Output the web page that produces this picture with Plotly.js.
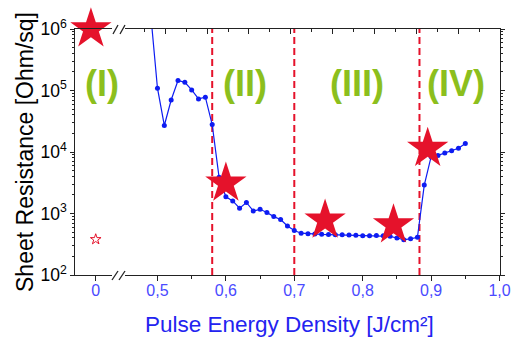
<!DOCTYPE html>
<html><head><meta charset="utf-8">
<script src="https://cdn.plot.ly/plotly-3.0.1.min.js"></script>
<style>html,body{margin:0;padding:0;background:#fff;}#chart{width:517px;height:339px;}</style>
</head><body><div id="chart"></div>
<script>
// Measured series (pulse energy density J/cm², sheet resistance Ohm/sq)
const energy = [0.49,0.50,0.51,0.52,0.53,0.54,0.55,0.56,0.57,0.58,0.59,0.60,0.61,0.62,0.63,0.64,0.65,0.66,0.67,0.68,0.69,0.70,0.71,0.72,0.73,0.74,0.75,0.76,0.77,0.78,0.79,0.80,0.81,0.82,0.83,0.84,0.85,0.86,0.87,0.88,0.89,0.90,0.91,0.92,0.93,0.94,0.95];
const sheetResistance = [1.8e6,1.09e5,2.7e4,7.0e4,1.45e5,1.36e5,1.02e5,7.3e4,7.8e4,2.8e4,3.9e3,1.87e3,1.6e3,1.22e3,1.51e3,1.1e3,1.17e3,1.04e3,890,800,626,530,478,468,462,458,455,452,450,446,442,435,435,438,436,425,400,375,388,410,2900,8400,8800,9600,10500,11500,13800];
// Highlighted samples (stars)
const refStarX = [-0.007];
const refStarY = [1e6];
const starX = [0.60,0.745,0.845,0.895];
const starY = [3100,780,650,11400];
const openStarX = [0];
const openStarY = [380];
// Regime boundaries and labels
const regionBounds = [0.58,0.70,0.883];
const regionLabels = ['(I)','(II)','(III)','(IV)'];
const regionLabelPos = [0.0624,0.40,0.6647,0.8972];
const leftTickVals = [0];
const leftTickText = ['0'];
const xTitle = 'Pulse Energy Density [J/cm²]';
const yTitle = 'Sheet Resistance [Ohm/sq]';

const FONT = 'Liberation Sans, Arial, sans-serif';
const RED = '#e5122b';
const BLUE = '#0d1cf2';

const traces = [
  {x: energy, y: sheetResistance, xaxis:'x2', yaxis:'y', mode:'lines+markers', type:'scatter',
   line:{color:BLUE, width:1.2}, marker:{color:BLUE, size:5}, hoverinfo:'x+y'},
  {x: openStarX, y: openStarY, xaxis:'x', yaxis:'y', mode:'markers', type:'scatter',
   marker:{symbol:'star-open', size:8, color:RED, line:{color:RED, width:1}}},
  {x: refStarX, y: refStarY, xaxis:'x', yaxis:'y', mode:'markers', type:'scatter', cliponaxis:false,
   marker:{symbol:'star', size:31, color:RED, line:{width:0}}},
  {x: starX, y: starY, xaxis:'x2', yaxis:'y', mode:'markers', type:'scatter', cliponaxis:false,
   marker:{symbol:'star', size:31, color:RED, line:{width:0}}},
  {x: [], y: [], xaxis:'x3', yaxis:'y', type:'scatter', mode:'markers', hoverinfo:'skip'},
  {x: [], y: [], xaxis:'x2', yaxis:'y2', type:'scatter', mode:'markers', hoverinfo:'skip'}
];

const AXC = '#222';
const shapes = regionBounds.map(b => ({type:'line', xref:'x2', yref:'paper', x0:b, x1:b, y0:0, y1:1, layer:'below',
  line:{color:RED, width:2, dash:'7px,4px'}}));
// axis break marks
const px = v => (v-75)/425, py = v => (275-v)/246;
[[112,280,118,271],[119,280,125,271],[113,34,118,25],[120,34,125,25]].forEach(s=>{
  shapes.push({type:'line', xref:'paper', yref:'paper', x0:px(s[0]), y0:py(s[1]), x1:px(s[2]), y1:py(s[3]), line:{color:AXC, width:1.3}});
});

const annotations = regionLabels.map((t,i)=>({text:'<b>'+t+'</b>', xref:'paper', yref:'paper', x:regionLabelPos[i], y:0.7785,
  xanchor:'center', yanchor:'middle', showarrow:false, font:{family:FONT, size:36, color:'#8cbf1d'}}));
annotations.push({text:xTitle, xref:'paper', yref:'paper', x:px(289), y:py(324), xanchor:'center', yanchor:'middle',
  showarrow:false, font:{family:FONT, size:22.5, color:'#2323f0'}});

const layout = {
  width:517, height:339, margin:{l:75, r:17, t:29, b:64},
  paper_bgcolor:'#fff', plot_bgcolor:'#fff', showlegend:false, separators:',.',
  font:{family:FONT, color:'#000'},
  xaxis:{domain:[0,0.0871], range:[-0.03026,0.02383], anchor:'y', tickvals:leftTickVals, ticktext:leftTickText,
    ticks:'outside', ticklen:5, tickcolor:AXC, showline:true, linecolor:AXC, linewidth:1.3, mirror:true, ticklabelstandoff:-5,
    showgrid:false, zeroline:false, tickfont:{size:16, color:'#4a4aff', family:FONT}},
  xaxis2:{domain:[0.1176,1], range:[0.4525,1.0007], anchor:'y', tick0:0.5, dtick:0.1, tickformat:'.1f',
    ticks:'outside', ticklen:5, tickcolor:AXC, showline:true, linecolor:AXC, linewidth:1.3, mirror:true, ticklabelstandoff:-5,
    showgrid:false, zeroline:false, tickfont:{size:16, color:'#4a4aff', family:FONT},
    minor:{ticks:'outside', ticklen:3, dtick:0.05, tick0:0.5, tickcolor:AXC, showgrid:false}},
  xaxis3:{overlaying:'x2', side:'top', anchor:'y', range:[0.4525,1.0007], tick0:0.5113, dtick:0.0612,
    ticks:'inside', ticklen:5, tickcolor:AXC, showticklabels:false, showline:false, showgrid:false, zeroline:false,
    minor:{ticks:'inside', ticklen:3, dtick:0.0306, tick0:0.5113, tickcolor:AXC, showgrid:false}},
  yaxis:{type:'log', range:[2,6], anchor:'x', dtick:1, exponentformat:'power', ticks:'outside', ticklen:4, tickcolor:AXC,
    showline:true, linecolor:AXC, linewidth:1.3, showgrid:false, zeroline:false,
    tickfont:{size:14, color:'#000', family:FONT},
    minor:{ticks:'outside', ticklen:2, tickcolor:AXC, showgrid:false},
    title:{text:yTitle, font:{size:23, color:'#000', family:FONT}, standoff:0}},
  yaxis2:{type:'log', range:[2,6], overlaying:'y', side:'right', anchor:'x2', dtick:1, ticks:'outside', ticklen:4, tickcolor:AXC,
    showticklabels:false, showline:true, linecolor:AXC, linewidth:1.3, showgrid:false, zeroline:false,
    minor:{ticks:'outside', ticklen:2, tickcolor:AXC, showgrid:false}},
  shapes: shapes,
  annotations: annotations
};

Plotly.newPlot('chart', traces, layout, {staticPlot:true, displayModeBar:false});
</script></body></html>
